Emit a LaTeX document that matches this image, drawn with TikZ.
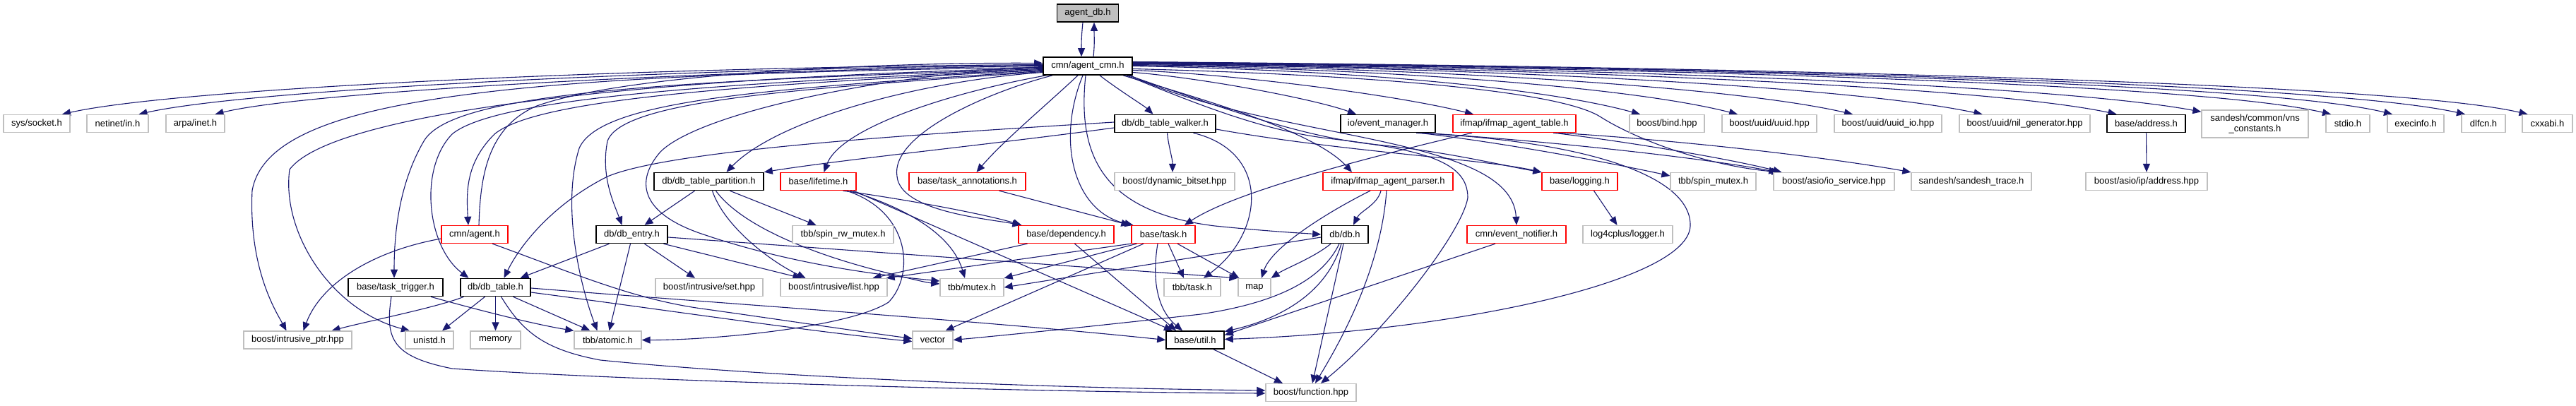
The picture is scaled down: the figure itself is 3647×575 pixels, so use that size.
\documentclass[tikz,border=0pt]{standalone}
\usepackage{fontspec}
\setmainfont{Liberation Sans}
\usetikzlibrary{arrows.meta}
\pgfdeclarelayer{edgelayer}
\pgfsetlayers{edgelayer,main}
\definecolor{edgeblue}{HTML}{191970}
\definecolor{boxgray}{HTML}{BFBFBF}
\tikzset{
  nd/.style={rectangle, inner sep=0pt, minimum height=25pt, font=\fontsize{13}{15}\selectfont, line width=1.3pt, fill=white},
  gbox/.style={nd, draw=boxgray},
  bbox/.style={nd, draw=black, line width=1.6pt},
  rbox/.style={nd, draw=red},
  topbox/.style={nd, draw=black, fill=boxgray, line width=1.6pt},
  arr/.style={draw=edgeblue, line width=1.1pt, -{Triangle[length=12pt,width=10pt]}},
}
\begin{document}
\begin{tikzpicture}[x=1pt,y=-1pt]
\useasboundingbox (0,0) rectangle (3647,575);

% nodes
\node[topbox, minimum width=87pt] (adb) at (1540,18.5) {agent\_db.h};
\node[bbox, minimum width=126pt] (acmn) at (1540,93.5) {cmn/agent\_cmn.h};

\node[gbox, minimum width=94pt] (sock) at (52,175) {sys/socket.h};
\node[gbox, minimum width=87pt] (netin) at (166.5,175) {netinet/in.h};
\node[gbox, minimum width=83pt] (arpa) at (276.5,175) {arpa/inet.h};
\node[bbox, minimum width=143pt] (walker) at (1649.5,175) {db/db\_table\_walker.h};
\node[bbox, minimum width=134pt] (evm) at (1965,175) {io/event\_manager.h};
\node[rbox, minimum width=174pt] (iftab) at (2144,175) {ifmap/ifmap\_agent\_table.h};
\node[gbox, minimum width=106pt] (bind) at (2360,175) {boost/bind.hpp};
\node[gbox, minimum width=134pt] (uuid) at (2505,175) {boost/uuid/uuid.hpp};
\node[gbox, minimum width=152pt] (uuidio) at (2673,175) {boost/uuid/uuid\_io.hpp};
\node[gbox, minimum width=185pt] (nilgen) at (2866.5,175) {boost/uuid/nil\_generator.hpp};
\node[bbox, minimum width=111pt] (addr) at (3038.5,175) {base/address.h};
\node[gbox, minimum width=151pt, minimum height=39pt, align=center] (vns) at (3192.5,175.5) {sandesh/common/vns\\\_constants.h};
\node[gbox, minimum width=62pt] (stdio) at (3324,175) {stdio.h};
\node[gbox, minimum width=80pt] (execinfo) at (3420,175) {execinfo.h};
\node[gbox, minimum width=62pt] (dlfcn) at (3516,175) {dlfcn.h};
\node[gbox, minimum width=71pt] (cxxabi) at (3606.5,175) {cxxabi.h};

\node[bbox, minimum width=155pt] (part) at (1003.5,257) {db/db\_table\_partition.h};
\node[rbox, minimum width=107pt] (life) at (1158.5,257) {base/lifetime.h};
\node[rbox, minimum width=165pt] (tann) at (1369.5,257) {base/task\_annotations.h};
\node[gbox, minimum width=170pt] (dynb) at (1663,257) {boost/dynamic\_bitset.hpp};
\node[rbox, minimum width=184pt] (ifpar) at (1965,257) {ifmap/ifmap\_agent\_parser.h};
\node[rbox, minimum width=107pt] (logg) at (2236.5,257) {base/logging.h};
\node[gbox, minimum width=121pt] (spinm) at (2425.5,257) {tbb/spin\_mutex.h};
\node[gbox, minimum width=171pt] (iosvc) at (2596.5,257) {boost/asio/io\_service.hpp};
\node[gbox, minimum width=170pt] (strace) at (2791,257) {sandesh/sandesh\_trace.h};
\node[gbox, minimum width=172pt] (ipaddr) at (3039,257) {boost/asio/ip/address.hpp};

\node[rbox, minimum width=94pt] (agent) at (672,332) {cmn/agent.h};
\node[bbox, minimum width=101pt] (entry) at (894.5,332) {db/db\_entry.h};
\node[gbox, minimum width=143pt] (spinrw) at (1193.5,332) {tbb/spin\_rw\_mutex.h};
\node[rbox, minimum width=135pt] (dep) at (1509.5,332) {base/dependency.h};
\node[rbox, minimum width=90pt] (task) at (1647,332) {base/task.h};
\node[bbox, minimum width=66pt] (db) at (1904,332) {db/db.h};
\node[rbox, minimum width=140pt] (evn) at (2147,332) {cmn/event\_notifier.h};
\node[gbox, minimum width=127pt] (l4c) at (2304.5,332) {log4cplus/logger.h};

\node[bbox, minimum width=134pt] (trig) at (560,407) {base/task\_trigger.h};
\node[bbox, minimum width=99pt] (dbtab) at (701.5,407) {db/db\_table.h};
\node[gbox, minimum width=152pt] (iset) at (1004,407) {boost/intrusive/set.hpp};
\node[gbox, minimum width=151pt] (ilist) at (1180.5,407) {boost/intrusive/list.hpp};
\node[gbox, minimum width=90pt] (mutex) at (1376,407) {tbb/mutex.h};
\node[gbox, minimum width=80pt] (ttask) at (1688,407) {tbb/task.h};
\node[gbox, minimum width=46pt] (map) at (1776,407) {map};

\node[gbox, minimum width=153pt] (iptr) at (421.5,481.5) {boost/intrusive\_ptr.hpp};
\node[gbox, minimum width=68pt] (unistd) at (608,481.5) {unistd.h};
\node[gbox, minimum width=71pt] (memory) at (701.5,481.5) {memory};
\node[gbox, minimum width=95pt] (atomic) at (860.5,481.5) {tbb/atomic.h};
\node[gbox, minimum width=57pt] (vector) at (1320.5,481.5) {vector};
\node[bbox, minimum width=82pt] (util) at (1692,481.5) {base/util.h};

\node[gbox, minimum width=128pt] (func) at (1856,556) {boost/function.hpp};

\begin{pgfonlayer}{edgelayer}
\fill[white] (0,0) rectangle (3647,575);
% agent_db <-> agent_cmn
\draw[arr] ([xshift=-7pt]adb.south) .. controls +(-2,20) and +(0,-20) .. ([xshift=-9pt]acmn.north);
\draw[arr] ([xshift=8pt]acmn.north) .. controls +(2,-20) and +(0,20) .. ([xshift=9pt]adb.south);

% left fan from agent_cmn
\draw[arr] ([yshift=2pt]acmn.west) .. controls (900,95) and (250,125) .. ([xshift=36pt]sock.north);
\draw[arr] ([yshift=1pt]acmn.west) .. controls (950,97) and (350,127) .. ([xshift=30pt]netin.north);
\draw[arr] (acmn.west) .. controls (1000,99) and (430,130) .. ([xshift=28pt]arpa.north);
\draw[arr] ([yshift=-2pt]acmn.west) .. controls (700,105) and (380,140) .. (357,270) .. controls (352,380) and (390,440) .. ([xshift=-16pt]iptr.north);
\draw[arr] ([yshift=-3pt]acmn.west) .. controls (900,110) and (470,160) .. (410,240) .. controls (398,330) and (470,440) .. ([xshift=-28pt]unistd.north);
\draw[arr] ([yshift=-4pt]acmn.west) .. controls (950,115) and (640,130) .. (600,200) .. controls (565,260) and (558,330) .. ([xshift=-2pt]trig.north);
\draw[arr] ([yshift=-5pt]acmn.west) .. controls (1000,118) and (700,140) .. (640,190) .. controls (592,240) and (605,350) .. ([xshift=-38pt]dbtab.north);
\draw[arr] ([yshift=-6pt]acmn.west) .. controls (1050,120) and (760,140) .. (700,190) .. controls (660,230) and (660,270) .. ([xshift=-9pt]agent.north);
\draw[arr] ([xshift=6pt]agent.north) .. controls (680,250) and (690,180) .. (760,150) .. controls (900,100) and (1300,88) .. ([yshift=4pt]acmn.west);
\draw[arr] ([yshift=-7pt]acmn.west) .. controls (1100,125) and (850,140) .. (820,210) .. controls (795,290) and (820,400) .. ([xshift=-15pt]atomic.north);
\draw[arr] ([yshift=-8pt]acmn.west) .. controls (1150,125) and (880,140) .. (860,200) .. controls (850,250) and (870,290) .. ([xshift=-14pt]entry.north);
\draw[arr] ([yshift=-9pt]acmn.west) .. controls (1300,115) and (1100,170) .. ([xshift=25pt]part.north);
\draw[arr] ([yshift=-1pt]acmn.west) .. controls (1250,105) and (990,160) .. (935,215) .. controls (900,255) and (905,300) .. (990,330) .. controls (1120,375) and (1250,390) .. ([yshift=9pt]mutex.west);
\draw[arr] ([xshift=5pt]acmn.south west) .. controls (1350,130) and (1190,180) .. ([xshift=8pt]life.north);
\draw[arr] ([xshift=-14pt]acmn.south) .. controls (1480,150) and (1420,200) .. ([xshift=13pt]tann.north);
\draw[arr] ([xshift=-50pt]acmn.south) .. controls (1400,130) and (1260,190) .. (1270,250) .. controls (1275,300) and (1400,310) .. ([xshift=4pt]dep.north west);
\draw[arr] ([xshift=-7pt]acmn.south) .. controls (1495,200) and (1520,300) .. ([xshift=3pt]task.north west);
\draw[arr] ([xshift=17pt]acmn.south) .. controls (1580,125) and (1620,150) .. ([xshift=-17pt]walker.north);
\draw[arr] ([xshift=-3pt]acmn.south) .. controls (1525,220) and (1560,300) .. (1720,320) .. controls (1800,328) and (1840,330) .. (db.west);
\draw[arr] ([xshift=50pt]acmn.south) .. controls (1700,140) and (1860,185) .. ([xshift=-51pt]ifpar.north);
\draw[arr] ([xshift=58pt]acmn.south) .. controls (1750,160) and (1850,195) .. (1950,205) .. controls (2050,215) and (2130,235) .. (logg.north west);
\draw[arr] ([xshift=60pt]acmn.south) .. controls (1800,200) and (2140,190) .. (evn.north);
\draw[arr] ([xshift=55pt]acmn.south) .. controls (1700,150) and (1790,185) .. (1880,196) .. controls (2020,212) and (2078,230) .. (2078,280) .. controls (2070,330) and (1960,470) .. ([xshift=14pt]func.north);
\draw[arr] ([yshift=-4pt]acmn.east) .. controls (1900,105) and (2200,125) .. (2265,165) .. controls (2320,200) and (2420,235) .. ([xshift=10pt]iosvc.north west);

% right fan from agent_cmn
\draw[arr] ([yshift=-9pt]acmn.east) .. controls (1700,110) and (1860,140) .. ([xshift=-45pt]evm.north);
\draw[arr] ([yshift=-6pt]acmn.east) .. controls (1750,105) and (1980,135) .. ([xshift=-58pt]iftab.north);
\draw[arr] (acmn.east) .. controls (1950,100) and (2200,128) .. ([xshift=-38pt]bind.north);
\draw[arr] ([yshift=1pt]acmn.east) .. controls (2000,98) and (2320,126) .. ([xshift=-45pt]uuid.north);
\draw[arr] ([yshift=2pt]acmn.east) .. controls (2050,97) and (2460,124) .. ([xshift=-50pt]uuidio.north);
\draw[arr] ([yshift=3pt]acmn.east) .. controls (2100,96) and (2620,122) .. ([xshift=-60pt]nilgen.north);
\draw[arr] ([yshift=3.5pt]acmn.east) .. controls (2150,96) and (2800,120) .. ([xshift=-42pt]addr.north);
\draw[arr] ([yshift=4pt]acmn.east) .. controls (2200,95) and (2900,118) .. ([yshift=-3pt]vns.north west);
\draw[arr] ([yshift=4.5pt]acmn.east) .. controls (2250,95) and (3100,115) .. ([xshift=-24pt]stdio.north);
\draw[arr] ([yshift=5pt]acmn.east) .. controls (2300,94) and (3200,115) .. ([xshift=-33pt]execinfo.north);
\draw[arr] ([yshift=5.5pt]acmn.east) .. controls (2350,94) and (3280,115) .. ([xshift=-26pt]dlfcn.north);
\draw[arr] ([yshift=6pt]acmn.east) .. controls (2400,94) and (3380,115) .. ([xshift=-28pt]cxxabi.north);

% db_table_walker
\draw[arr] ([yshift=-6pt]walker.west) .. controls (1400,205) and (1200,225) .. (part.north east);
\draw[arr] ([yshift=2pt]walker.west) .. controls (1300,190) and (950,212) .. (860,250) .. controls (790,285) and (740,340) .. ([xshift=12pt]dbtab.north);
\draw[arr] ([xshift=3pt]walker.south) .. controls +(2,20) and +(0,-20) .. ([xshift=-3pt]dynb.north);
\draw[arr] ([xshift=40pt]walker.south) .. controls (1800,215) and (1790,330) .. ([xshift=16pt]ttask.north);
\draw[arr] ([yshift=-8pt]walker.east) .. controls (1900,215) and (2100,225) .. (logg.north west);

% io/event_manager
\draw[arr] ([xshift=45pt]evm.south) .. controls (2150,205) and (2300,235) .. ([yshift=8pt]spinm.west);
\draw[arr] ([xshift=50pt]evm.south) .. controls (2200,200) and (2420,225) .. ([xshift=6pt]iosvc.north west);
\draw[arr] ([xshift=40pt]evm.south) .. controls (2250,200) and (2395,250) .. (2393,320) .. controls (2390,400) and (2050,470) .. ([yshift=1pt]util.east);

% ifmap_agent_table
\draw[arr] ([xshift=-60pt]iftab.south) .. controls (1950,220) and (1750,270) .. ([xshift=30pt]task.north);
\draw[arr] ([xshift=55pt]iftab.south) .. controls (2300,200) and (2450,225) .. ([xshift=12pt]iosvc.north west);
\draw[arr] ([xshift=62pt]iftab.south) .. controls (2400,200) and (2600,225) .. (strace.north west);

% ifmap_agent_parser
\draw[arr] ([xshift=-10pt]ifpar.south) .. controls +(-5,20) and +(10,-20) .. ([xshift=12pt]db.north);
\draw[arr] ([xshift=-25pt]ifpar.south) .. controls (1880,300) and (1800,350) .. ([xshift=10pt]map.north);
\draw[arr] ([xshift=-2pt]ifpar.south) .. controls (1955,380) and (1900,480) .. ([xshift=6pt]func.north);

% db/db.h
\draw[arr] ([yshift=-4pt]db.west) -- (mutex.east);
\draw[arr] ([xshift=-8pt]db.south) .. controls (1870,400) and (1800,430) .. (1700,445) .. controls (1550,462) and (1420,475) .. (vector.east);
\draw[arr] ([xshift=-5pt]db.south) .. controls (1880,410) and (1820,450) .. ([yshift=12pt]util.east);
\draw[arr] ([xshift=-2pt]db.south) -- ([xshift=2pt]func.north);
\draw[arr] ([xshift=-20pt]db.south) .. controls (1860,365) and (1820,380) .. (map.north east);

% others
\draw[arr] ([xshift=-30pt]evn.south) -- ([yshift=7pt]util.east);
\draw[arr] ([xshift=20pt]logg.south) -- ([xshift=-15pt]l4c.north);
\draw[arr] (addr.south) -- (ipaddr.north);

% db_table_partition
\draw[arr] ([xshift=-20pt]part.south) -- ([xshift=18pt]entry.north);
\draw[arr] ([xshift=30pt]part.south) -- ([xshift=-38pt]spinrw.north);
\draw[arr] ([xshift=5pt]part.south) .. controls (1025,320) and (1090,370) .. ([xshift=-40pt]ilist.north);
\draw[arr] ([xshift=10pt]part.south) .. controls (1050,320) and (1150,360) .. (1250,385) .. controls (1290,395) and (1310,400) .. ([yshift=5pt]mutex.west);

% lifetime
\draw[arr] ([xshift=35pt]life.south) .. controls (1300,285) and (1400,305) .. ([xshift=5pt]dep.north west);
\draw[arr] ([xshift=45pt]life.south) .. controls (1300,300) and (1350,340) .. ([xshift=-10pt]mutex.north);
\draw[arr] ([xshift=50pt]life.south) -- ([xshift=-32pt]util.north);
\draw[arr] ([xshift=40pt]life.south) .. controls (1290,300) and (1295,390) .. (1258,428) .. controls (1200,465) and (1000,482) .. (atomic.east);

% task_annotations
\draw[arr] ([xshift=45pt]tann.south) -- ([xshift=-2pt]task.north west);

% dependency
\draw[arr] ([xshift=-55pt]dep.south) -- ([xshift=55pt]ilist.north);
\draw[arr] ([xshift=12pt]dep.south) -- ([xshift=-27pt]util.north);

% task
\draw[arr] (task.south west) -- ([xshift=-2pt]ilist.north east);
\draw[arr] ([xshift=8pt]task.south west) -- (mutex.north east);
\draw[arr] ([xshift=-28pt]task.south) -- ([xshift=18pt]vector.north);
\draw[arr] ([xshift=-8pt]task.south) .. controls (1630,400) and (1640,440) .. ([xshift=-18pt]util.north);
\draw[arr] ([xshift=7pt]task.south) -- ([xshift=-12pt]ttask.north);
\draw[arr] ([xshift=20pt]task.south) -- ([xshift=2pt]map.north west);

% db_entry
\draw[arr] ([xshift=-32pt]entry.south) -- ([xshift=35pt]dbtab.north);
\draw[arr] ([xshift=-2pt]entry.south) -- ([xshift=2pt]atomic.north);
\draw[arr] ([xshift=18pt]entry.south) -- ([xshift=-20pt]iset.north);
\draw[arr] ([xshift=45pt]entry.south) -- ([xshift=-46pt]ilist.north);
\draw[arr] ([yshift=-4pt]entry.east) -- (map.north west);

% agent
\draw[arr] ([yshift=-6pt]agent.west) .. controls (530,355) and (455,400) .. ([xshift=8pt]iptr.north);
\draw[arr] ([xshift=25pt]agent.south) .. controls (820,390) and (900,425) .. (1000,438) .. controls (1100,452) and (1220,470) .. ([yshift=2pt]vector.west);

% db_table
\draw[arr] ([yshift=-1pt]dbtab.east) .. controls (1000,428) and (1400,455) .. (util.west);
\draw[arr] ([yshift=-7pt]dbtab.east) .. controls (950,440) and (1150,470) .. ([yshift=-2pt]vector.west);
\draw[arr] ([xshift=-45pt]dbtab.south) .. controls (620,435) and (520,455) .. ([xshift=48pt]iptr.north);
\draw[arr] ([xshift=-15pt]dbtab.south) -- ([xshift=18pt]unistd.north);
\draw[arr] (dbtab.south) -- (memory.north);
\draw[arr] ([xshift=25pt]dbtab.south) -- ([xshift=-25pt]atomic.north);
\draw[arr] ([xshift=8pt]dbtab.south) .. controls (740,470) and (770,495) .. (850,510) .. controls (1100,535) and (1500,550) .. ([yshift=3pt]func.west);

% task_trigger
\draw[arr] ([xshift=50pt]trig.south) .. controls (680,440) and (760,460) .. (atomic.north west);
\draw[arr] ([xshift=-6pt]trig.south) .. controls (545,480) and (555,505) .. (640,522) .. controls (900,540) and (1500,556) .. ([yshift=-1pt]func.west);

% util
\draw[arr] ([xshift=26pt]util.south) -- ([xshift=-40pt]func.north);
\end{pgfonlayer}

\end{tikzpicture}
\end{document}
